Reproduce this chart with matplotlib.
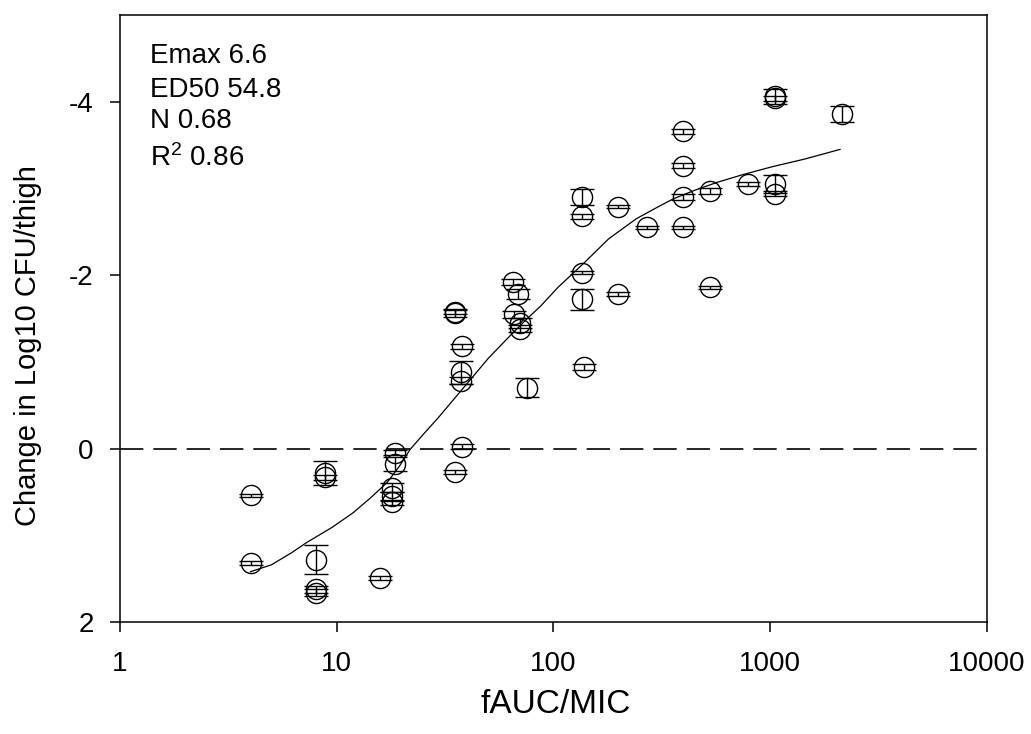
import matplotlib
matplotlib.use("Agg")
import matplotlib.pyplot as plt
from matplotlib.ticker import FixedLocator, FixedFormatter, NullLocator

plt.rcParams['font.family'] = ['Liberation Sans', 'DejaVu Sans']
plt.rcParams['mathtext.fontset'] = 'custom'
plt.rcParams['mathtext.rm'] = 'Liberation Sans'
plt.rcParams['mathtext.it'] = 'Liberation Sans'
plt.rcParams['mathtext.default'] = 'rm'

# observed points: fAUC/MIC, change in log10 CFU/thigh, error (SD)
auc_mic = [4.0, 4.0, 8.8, 8.8, 8.0, 8.0, 8.0, 15.8, 18.6, 18.6, 18.0, 18.0, 18.0,
           35.0, 35.0, 37.8, 37.5, 37.5, 37.8, 35.1,
           65.0, 68.6, 66.0, 70.0, 70.0, 75.5,
           135, 135, 199, 270, 396, 396, 396, 396, 527, 789,
           1052, 1052, 1052, 1052, 2143,
           135, 135, 199, 527, 139]
log_change = [0.54, 1.32, 0.28, 0.33, 1.28, 1.62, 1.66, 1.49, 0.05, 0.18, 0.45, 0.55, 0.62,
              -1.58, -1.56, -1.18, -0.88, -0.78, -0.02, 0.27,
              -1.92, -1.78, -1.55, -1.45, -1.38, -0.70,
              -2.90, -2.68, -2.79, -2.55, -3.66, -3.26, -2.90, -2.55, -2.97, -3.05,
              -4.06, -4.04, -3.05, -2.94, -3.86,
              -2.03, -1.72, -1.78, -1.86, -0.94]
log_err = [0.02, 0.02, 0.14, 0.03, 0.17, 0.04, 0.04, 0.02, 0.03, 0.08, 0.05, 0.05, 0.03,
           0.03, 0.04, 0.03, 0.13, 0.04, 0.03, 0.02,
           0.03, 0.06, 0.04, 0.06, 0.04, 0.11,
           0.09, 0.03, 0.02, 0.02, 0.03, 0.03, 0.03, 0.02, 0.03, 0.02,
           0.09, 0.03, 0.10, 0.03, 0.09,
           0.02, 0.12, 0.02, 0.02, 0.03]

# fitted Emax curve
fit_x = [4.0, 5.0, 6.2, 7.3, 9.5, 11.9, 14.3, 17.1, 19.5, 21.8, 25, 29.5, 35, 42.5, 50,
         63, 75, 87, 105, 137, 180, 241, 300, 357, 450, 569, 750, 1021, 1450, 2100]
fit_y = [1.42, 1.34, 1.20, 1.08, 0.91, 0.74, 0.57, 0.39, 0.20, 0.01, -0.16, -0.36,
         -0.58, -0.83, -1.04, -1.30, -1.49, -1.64, -1.86, -2.13, -2.42, -2.65, -2.78,
         -2.88, -2.98, -3.07, -3.16, -3.25, -3.34, -3.45]

params = ["Emax 6.6", "ED50 54.8", "N 0.68", r"R$^2$ 0.86"]

x_ticks = [1, 10, 100, 1000, 10000]
y_ticks = [2, 0, -2, -4]

fig = plt.figure(figsize=(10.31, 7.34), dpi=100)
ax = fig.add_axes([0.1164, 0.1526, 0.8409, 0.827])

ax.axhline(0, color='black', lw=1.2, dashes=(14, 6), zorder=1)
ax.plot(fit_x, fit_y, color='black', lw=0.9, zorder=2)
ax.errorbar(auc_mic, log_change, yerr=log_err, fmt='o', ms=14.5, mfc='none', mec='black',
            mew=1.0, ecolor='black', elinewidth=1.0, capsize=8.5, capthick=1.0, zorder=3)

ax.set_xscale('log')
ax.set_xlim(1, 10000)
ax.set_ylim(2, -5)

ax.xaxis.set_major_locator(FixedLocator(x_ticks))
ax.xaxis.set_major_formatter(FixedFormatter([str(v) for v in x_ticks]))
ax.xaxis.set_minor_locator(NullLocator())
ax.yaxis.set_major_locator(FixedLocator(y_ticks))
ax.yaxis.set_major_formatter(FixedFormatter([str(v) for v in y_ticks]))

ax.tick_params(axis='both', direction='out', length=7, width=1.1, labelsize=20)
ax.tick_params(axis='y', pad=12)
ax.tick_params(axis='x', pad=14)
for sp in ax.spines.values():
    sp.set_linewidth(1.1)

ax.set_xlabel('fAUC/MIC', fontsize=24)
ax.xaxis.set_label_coords(0.502, -0.11)
ax.set_ylabel('Change in Log10 CFU/thigh', fontsize=21)
ax.yaxis.set_label_coords(-0.09, 0.455)

# parameter block, top left
baselines = [63, 97, 128, 166]
for txt, b in zip(params, baselines):
    fig.text(150 / 1031, 1 - b / 734, txt, fontsize=20, va='baseline', ha='left')

fig.savefig('out.png', dpi=100)
